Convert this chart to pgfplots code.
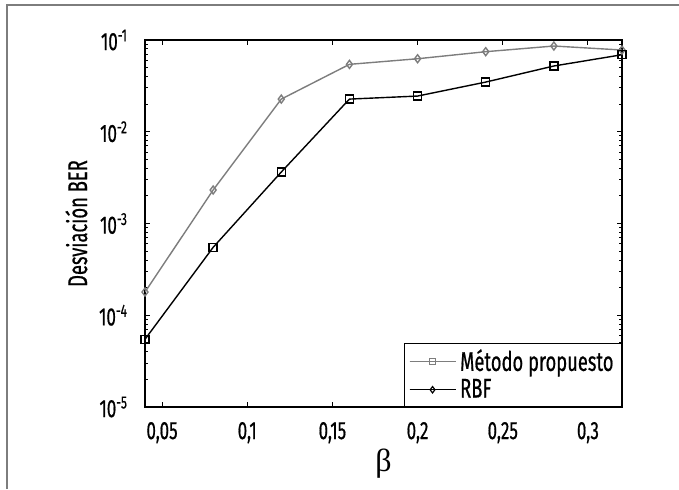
\documentclass[border=0pt]{standalone}
\usepackage{pgfplots}
\pgfplotsset{compat=1.18}
\usepackage{fontspec}
\setmainfont{Fira Sans}[FakeStretch=0.68, FakeBold=0.6]
\newfontfamily\grk{Liberation Serif}
\definecolor{lgray}{RGB}{125,125,125}
\begin{document}
\begin{tikzpicture}
\useasboundingbox (0,0) rectangle (339.5pt,244.5pt);
\draw[lgray,line width=0.8pt] (3.5pt,0) -- (3.5pt,242pt) -- (339.5pt,242pt);
\begin{axis}[
  at={(72.5pt,41pt)}, anchor=south west,
  scale only axis, width=238.5pt, height=183.5pt,
  ymode=log, xmin=0.04, xmax=0.32, ymin=1e-5, ymax=1e-1,
  axis line style={black, line width=0.6pt},
  tick style={black, line width=0.5pt},
  major tick length=2.5pt, minor tick length=1.5pt,
  tick align=inside,
  xtick={0.05,0.1,0.15,0.2,0.25,0.3},
  xticklabels={{0,05},{0,1},{0,15},{0,2},{0,25},{0,3}},
  ytick={1e-5,1e-4,1e-3,1e-2,1e-1},
  yticklabels={10\textsuperscript{-5},10\textsuperscript{-4},10\textsuperscript{-3},10\textsuperscript{-2},10\textsuperscript{-1}},
  ticklabel style={font=\fontsize{12.5}{14}\selectfont},
  xticklabel style={yshift=-4pt},
  yticklabel style={xshift=-5pt},
  xlabel={\grk\fontsize{16}{17}\selectfont β},
  ylabel={\fontsize{13.5}{15}\selectfont Desviación BER},
  xlabel style={yshift=4pt},
  ylabel style={yshift=-1pt},
  legend style={at={(rel axis cs:1,0)}, anchor=south east, draw=black, line width=0.5pt, font=\fontsize{13.5}{14}\selectfont, inner xsep=2pt, inner ysep=1pt, row sep=-1.5pt, cells={anchor=west}},
  legend cell align=left,
  legend image code/.code={\draw[#1] (0pt,0pt) -- (23pt,0pt); \draw[#1, mark repeat=2, mark phase=2] plot coordinates {(0pt,0pt) (11.5pt,0pt) (23pt,0pt)};},
]
\addlegendimage{lgray, line width=0.6pt, mark=square, mark size=1.6pt, mark options={solid}}
\addlegendentry{Método propuesto}
\addlegendimage{black, line width=0.6pt, mark=diamond, mark size=1.6pt}
\addlegendentry{RBF}
\addplot[lgray, line width=0.7pt, mark=diamond, mark size=2pt, forget plot] coordinates {
(0.04,1.79e-4) (0.08,2.32e-3) (0.12,0.0227) (0.16,0.0543) (0.20,0.0625) (0.24,0.0746) (0.28,0.086) (0.32,0.0778)};
\addplot[black, line width=0.7pt, mark=square, mark size=2pt, forget plot] coordinates {
(0.04,5.47e-5) (0.08,5.5e-4) (0.12,3.64e-3) (0.16,0.0227) (0.20,0.0245) (0.24,0.0348) (0.28,0.0521) (0.32,0.0691)};
\end{axis}
\end{tikzpicture}
\end{document}
